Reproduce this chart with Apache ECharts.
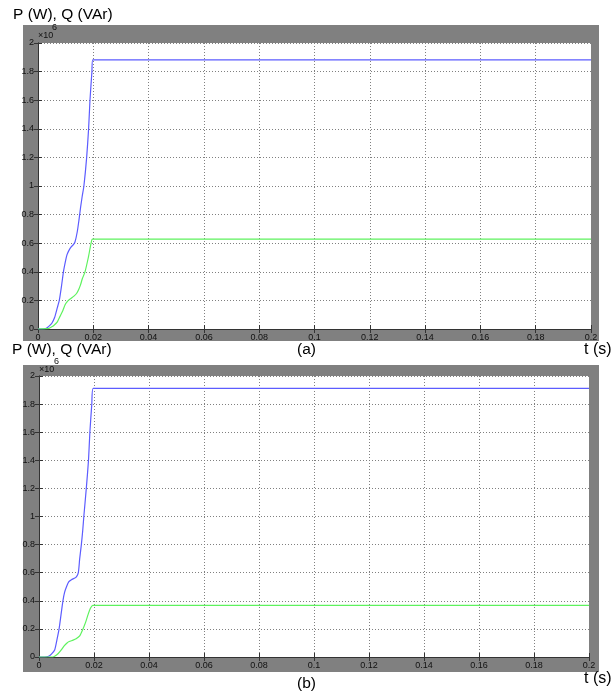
<!DOCTYPE html>
<html><head><meta charset="utf-8">
<script src="https://cdn.jsdelivr.net/npm/echarts@6/dist/echarts.min.js"></script>
<style>html,body{margin:0;padding:0;background:#fff}#c{width:613px;height:691px}</style>
</head><body><div id="c"></div>
<script>
// x axis tick values (s) and y axis ticks (x10^6)
const xTicks = [0,0.02,0.04,0.06,0.08,0.1,0.12,0.14,0.16,0.18,0.2];
const yTicks = [0,0.2,0.4,0.6,0.8,1,1.2,1.4,1.6,1.8,2];

// Panel (a)
const tPa = [0,0.002,0.003,0.004,0.005,0.006,0.007,0.0077,0.0085,0.0092,0.0100,0.0105,0.0112,0.0120,0.0128,0.0134,0.0142,0.0148,0.0154,0.0160,0.0166,0.0176,0.0183,0.0188,0.0195,0.0198,0.2];
const Pa  = [0,0,0.005,0.02,0.04,0.08,0.15,0.2,0.3,0.4,0.48,0.52,0.55,0.575,0.59,0.61,0.68,0.76,0.85,0.93,1.0,1.2,1.4,1.6,1.8,1.882,1.882];
const tQa = [0,0.004,0.005,0.006,0.007,0.008,0.009,0.0098,0.0105,0.011,0.012,0.013,0.014,0.0148,0.0154,0.016,0.017,0.0182,0.0192,0.0197,0.2];
const Qa  = [0,0.005,0.015,0.03,0.05,0.09,0.13,0.17,0.19,0.2,0.215,0.23,0.25,0.28,0.31,0.35,0.4,0.5,0.6,0.628,0.628];

// Panel (b)
const tPb = [0,0.002,0.0035,0.0045,0.0057,0.0065,0.0073,0.0080,0.0087,0.0093,0.0100,0.0108,0.0118,0.0128,0.0136,0.0143,0.0148,0.0154,0.0159,0.0163,0.0172,0.0180,0.0185,0.0192,0.0197,0.2];
const Pb  = [0,0,0.005,0.02,0.05,0.12,0.2,0.3,0.4,0.46,0.5,0.535,0.55,0.56,0.57,0.6,0.7,0.8,0.9,1.0,1.2,1.4,1.6,1.8,1.912,1.912];
const tQb = [0,0.005,0.0057,0.007,0.0081,0.009,0.0102,0.011,0.0124,0.0135,0.0148,0.016,0.017,0.0178,0.0188,0.0196,0.2];
const Qb  = [0,0,0.005,0.025,0.05,0.075,0.1,0.11,0.12,0.13,0.15,0.2,0.25,0.3,0.35,0.368,0.368];

const zip = (a,b) => a.map((v,i)=>[v,b[i]]);
const fmtNum = v => String(+(+v).toFixed(2));

const gridLine = {show:true, lineStyle:{color:'#808080', type:[1,2], width:1}};
const tick = {show:true, inside:true, length:4, lineStyle:{color:'#333'}};
const aLine = {show:true, lineStyle:{color:'#333', width:1}};
const lbl = {color:'#111', fontSize:9, fontFamily:'Liberation Sans, Arial', margin:4};

function xAx(g, main){
  return {type:'value', gridIndex:g, min:xTicks[0], max:xTicks[xTicks.length-1], interval:0.02,
    position: main?'bottom':'top',
    axisLine:aLine, axisTick:tick,
    axisLabel: main ? Object.assign({formatter:fmtNum}, lbl) : {show:false},
    splitLine: main ? gridLine : {show:false}};
}
function yAx(g, main){
  return {type:'value', gridIndex:g, min:yTicks[0], max:yTicks[yTicks.length-1], interval:0.2,
    position: main?'left':'right',
    axisLine:aLine, axisTick:tick,
    axisLabel: main ? Object.assign({formatter:fmtNum}, lbl) : {show:false},
    splitLine: main ? gridLine : {show:false}};
}
const blue = '#5c5cff', green = '#5ef25e';
function ser(data, col, xi, yi){
  return {type:'line', xAxisIndex:xi, yAxisIndex:yi, data:data, showSymbol:false, symbol:'none',
    smooth:0.2, lineStyle:{color:col, width:1.2}, animation:false, z:5};
}
const txt = (x,y,s,size,extra) => ({type:'text', left:x, top:y, z:-1,
  style:Object.assign({text:s, fill:'#000', font: size+'px "Liberation Sans", Arial'}, extra||{})});

const chart = echarts.init(document.getElementById('c'), null, {renderer:'canvas'});
chart.setOption({
  backgroundColor:'#fff',
  animation:false,
  graphic:[
    {type:'rect', shape:{x:23,y:25,width:576,height:316}, style:{fill:'#808080'}, z:-10},
    {type:'rect', shape:{x:23,y:365,width:576,height:307}, style:{fill:'#808080'}, z:-10},
    txt(13,7,'P (W), Q (VAr)',15.5),
    txt(12,342,'P (W), Q (VAr)',15.5),
    txt(297,342,'(a)',15.5),
    txt(297,676,'(b)',15.5),
    txt(584,342,'t (s)',16),
    txt(584,671,'t (s)',16),
    txt(38,31,'×10',9,{fill:'#111'}),
    txt(52,23,'6',9,{fill:'#111'}),
    txt(39,365,'×10',9,{fill:'#111'}),
    txt(54,357,'6',9,{fill:'#111'})
  ],
  grid:[
    {left:38, top:43, width:553, height:286, show:true, backgroundColor:'#fff', borderWidth:0},
    {left:39, top:376, width:550, height:281, show:true, backgroundColor:'#fff', borderWidth:0}
  ],
  xAxis:[xAx(0,true), xAx(0,false), xAx(1,true), xAx(1,false)],
  yAxis:[yAx(0,true), yAx(0,false), yAx(1,true), yAx(1,false)],
  series:[
    ser(zip(tPa,Pa), blue, 0, 0),
    ser(zip(tQa,Qa), green, 0, 0),
    ser(zip(tPb,Pb), blue, 2, 2),
    ser(zip(tQb,Qb), green, 2, 2)
  ]
});
</script></body></html>
